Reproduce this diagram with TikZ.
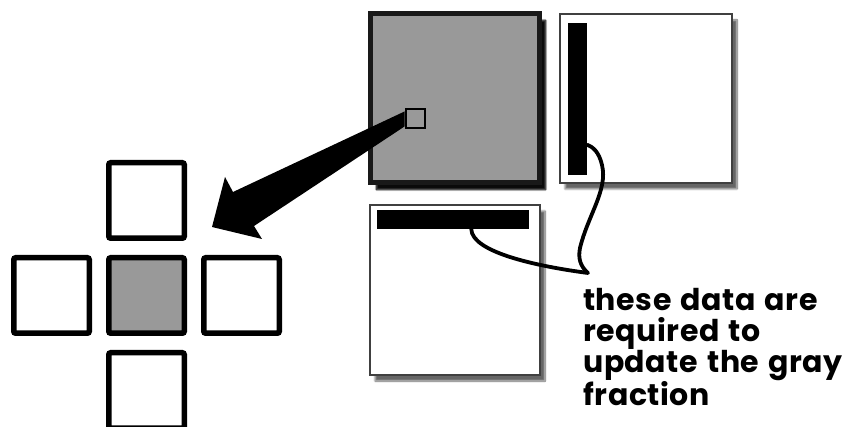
\documentclass[tikz,border=0pt]{standalone}
\usepackage{fontspec}
\usepackage{tikz}
\usetikzlibrary{positioning,calc,shadows.blur}
\newfontfamily\notefont{Poppins}[LetterSpace=2, WordSpace=1.3]
\definecolor{cellGray}{gray}{0.6}
\definecolor{edgeGray}{gray}{0.25}
\tikzset{
  cell/.style={rectangle, rounded corners=2pt, draw=black, line width=5.5pt, fill=white, minimum size=75.5pt, inner sep=0pt},
  block/.style={rectangle, draw=edgeGray, line width=1.5pt, fill=white, inner sep=0pt, blur shadow={shadow xshift=5pt, shadow yshift=-6pt, shadow blur steps=10, shadow opacity=60}},
  bar/.style={rectangle, fill=black, inner sep=0pt},
  link/.style={line width=3.8pt, draw=black, line cap=round, line join=round}
}
\begin{document}
\begin{tikzpicture}[x=1pt, y=-1pt, node distance=14pt]
  \useasboundingbox (0,0) rectangle (857,427);
  % stencil of neighbours
  \node[cell, fill=cellGray] (mid) at (146.5,295.5) {};
  \node[cell, above=of mid] (up) {};
  \node[cell, below=of mid] (down) {};
  \node[cell, left=of mid] (left) {};
  \node[cell, right=of mid] (right) {};
  % domain and halo data
  \node[block, draw=black!90, line width=5pt, fill=cellGray, minimum size=169pt, blur shadow={shadow xshift=6pt, shadow yshift=-7pt, shadow blur steps=10, shadow opacity=80}] (domain) at (455,98) {};
  \node[block, minimum width=172pt, minimum height=169pt] (east) at (646,98.5) {};
  \node[bar, minimum width=19pt, minimum height=152pt] (barV) at (577.5,99) {};
  \node[block, minimum size=170pt] (south) at (455,290) {};
  \node[bar, minimum width=152pt, minimum height=19pt] (barH) at (453,219.5) {};
  % big arrow to the stencil
  \node[rectangle, draw=black, line width=2pt, fill=cellGray, minimum size=19pt, inner sep=0pt] (point) at (415,118.5) {};
  \coordinate (aim) at (212,227);
  \fill[black] ([yshift=7pt]point.west) -- (233,192) -- (225,177) -- (aim) -- (262,239) -- (254,226) -- ([yshift=-8pt]point.west) -- cycle;
  % callout
  \coordinate (tip) at (588,273);
  \draw[link] ($(barH.south west)!0.62!(barH.south east)$) .. controls (472,252) and (535,266) .. (tip)
    .. controls (580,266) and (578,258) .. (580,248) .. controls (588,215) and (608,190) .. (602,165)
    .. controls (599,152) and (593,147) .. ($(barV.north east)!0.8!(barV.south east)$);
  \node[anchor=north west, inner sep=0pt, align=left, font=\notefont\bfseries\fontsize{30}{31}\selectfont] (note) at (583,288)
    {these data are\\required to\\update the gray\\fraction};
\end{tikzpicture}
\end{document}
